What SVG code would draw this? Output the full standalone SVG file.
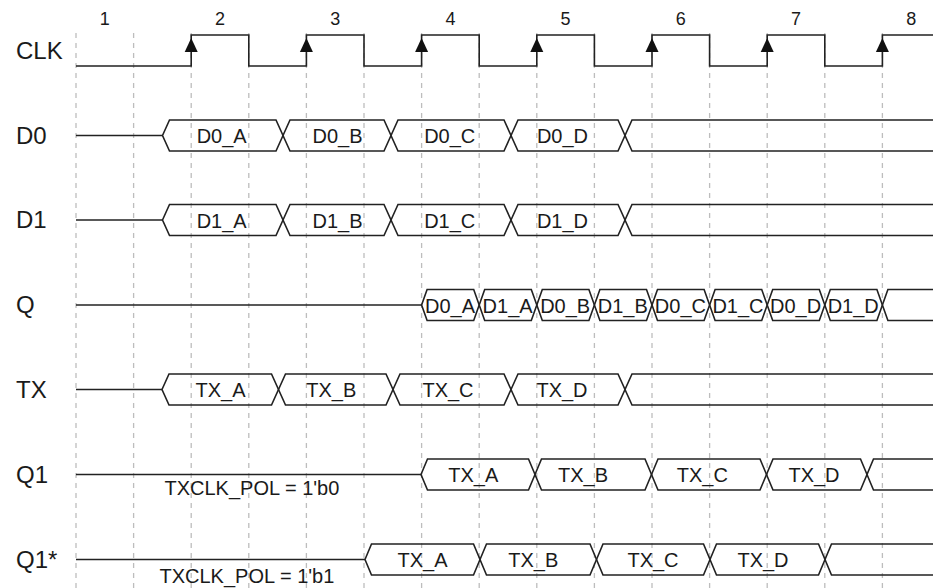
<svg xmlns="http://www.w3.org/2000/svg" xmlns:xlink="http://www.w3.org/1999/xlink" width="933" height="588" viewBox="0 0 933 588">
<style>
.grid{stroke:#bdbdbd;stroke-width:1.3;stroke-dasharray:5 5;fill:none}
.sig{stroke:#222;stroke-width:1.6;fill:none;stroke-linejoin:miter}
.lbl{font-family:"Liberation Sans",Arial,sans-serif;font-size:24px;fill:#1a1a1a}
.num{font-family:"Liberation Sans",Arial,sans-serif;font-size:18px;fill:#1a1a1a;text-anchor:middle}
.val{font-family:"Liberation Sans",Arial,sans-serif;font-size:20px;fill:#1a1a1a;text-anchor:middle}
.note{font-family:"Liberation Sans",Arial,sans-serif;font-size:20px;fill:#1a1a1a}
</style>
<defs>
<path id="edge" d="M0 0 L-6.5 14 L6.5 14 Z" fill="#111"/>
</defs>
<rect width="933" height="588" fill="#fff"/>
<g id="grid" class="grid">
<line x1="76" y1="33" x2="76" y2="588"/>
<line x1="133.6" y1="33" x2="133.6" y2="588"/>
<line x1="191.2" y1="33" x2="191.2" y2="588"/>
<line x1="248.8" y1="33" x2="248.8" y2="588"/>
<line x1="306.4" y1="33" x2="306.4" y2="588"/>
<line x1="364" y1="33" x2="364" y2="588"/>
<line x1="421.6" y1="33" x2="421.6" y2="588"/>
<line x1="479.2" y1="33" x2="479.2" y2="588"/>
<line x1="536.8" y1="33" x2="536.8" y2="588"/>
<line x1="594.4" y1="33" x2="594.4" y2="588"/>
<line x1="652" y1="33" x2="652" y2="588"/>
<line x1="709.6" y1="33" x2="709.6" y2="588"/>
<line x1="767.2" y1="33" x2="767.2" y2="588"/>
<line x1="824.8" y1="33" x2="824.8" y2="588"/>
<line x1="882.4" y1="33" x2="882.4" y2="588"/>
</g>
<g id="cycles" class="num">
<text x="104.8" y="25">1</text>
<text x="220" y="25">2</text>
<text x="335.2" y="25">3</text>
<text x="450.4" y="25">4</text>
<text x="565.6" y="25">5</text>
<text x="680.8" y="25">6</text>
<text x="796" y="25">7</text>
<text x="911.2" y="25">8</text>
</g>
<g id="clk">
<text class="lbl" x="16" y="59">CLK</text>
<path class="sig" d="M76 66 H191.2 V35 H248.8 V66 H306.4 V35 H364 V66 H421.6 V35 H479.2 V66 H536.8 V35 H594.4 V66 H652 V35 H709.6 V66 H767.2 V35 H824.8 V66 H882.4 V35 H940"/>
<use xlink:href="#edge" x="191.2" y="38"/>
<use xlink:href="#edge" x="306.4" y="38"/>
<use xlink:href="#edge" x="421.6" y="38"/>
<use xlink:href="#edge" x="536.8" y="38"/>
<use xlink:href="#edge" x="652" y="38"/>
<use xlink:href="#edge" x="767.2" y="38"/>
<use xlink:href="#edge" x="882.4" y="38"/>
</g>
<g id="d0">
<text class="lbl" x="16" y="143.5">D0</text>
<g class="sig">
<path d="M76 135.5 H162.5"/>
<polygon points="162.5,135.5 169.5,120 276,120 283,135.5 276,151 169.5,151"/>
<polygon points="283,135.5 290,120 384,120 391,135.5 384,151 290,151"/>
<polygon points="391,135.5 398,120 504,120 511,135.5 504,151 398,151"/>
<polygon points="511,135.5 518,120 618,120 625,135.5 618,151 518,151"/>
<polyline points="940,120 632,120 625,135.5 632,151 940,151"/>
</g>
<g class="val">
<text x="221.7" y="143">D0_A</text>
<text x="337.5" y="143">D0_B</text>
<text x="449.7" y="143">D0_C</text>
<text x="562.5" y="143">D0_D</text>
</g>
</g>
<g id="d1">
<text class="lbl" x="16" y="228">D1</text>
<g class="sig">
<path d="M76 220 H162.5"/>
<polygon points="162.5,220 169.5,204.5 276,204.5 283,220 276,235.5 169.5,235.5"/>
<polygon points="283,220 290,204.5 384,204.5 391,220 384,235.5 290,235.5"/>
<polygon points="391,220 398,204.5 504,204.5 511,220 504,235.5 398,235.5"/>
<polygon points="511,220 518,204.5 618,204.5 625,220 618,235.5 518,235.5"/>
<polyline points="940,204.5 632,204.5 625,220 632,235.5 940,235.5"/>
</g>
<g class="val">
<text x="221.7" y="227.5">D1_A</text>
<text x="337.5" y="227.5">D1_B</text>
<text x="449.7" y="227.5">D1_C</text>
<text x="562.5" y="227.5">D1_D</text>
</g>
</g>
<g id="q">
<text class="lbl" x="16" y="313">Q</text>
<g class="sig">
<path d="M76 305 H421.6"/>
<polygon points="421.6,305 427.1,289.5 473.7,289.5 479.2,305 473.7,320.5 427.1,320.5"/>
<polygon points="479.2,305 484.7,289.5 531.3,289.5 536.8,305 531.3,320.5 484.7,320.5"/>
<polygon points="536.8,305 542.3,289.5 588.9,289.5 594.4,305 588.9,320.5 542.3,320.5"/>
<polygon points="594.4,305 599.9,289.5 646.5,289.5 652,305 646.5,320.5 599.9,320.5"/>
<polygon points="652,305 657.5,289.5 704.1,289.5 709.6,305 704.1,320.5 657.5,320.5"/>
<polygon points="709.6,305 715.1,289.5 761.7,289.5 767.2,305 761.7,320.5 715.1,320.5"/>
<polygon points="767.2,305 772.7,289.5 819.3,289.5 824.8,305 819.3,320.5 772.7,320.5"/>
<polygon points="824.8,305 830.3,289.5 876.9,289.5 882.4,305 876.9,320.5 830.3,320.5"/>
<polyline points="940,289.5 887.9,289.5 882.4,305 887.9,320.5 940,320.5"/>
</g>
<g class="val">
<text x="450" y="312.5">D0_A</text>
<text x="507.6" y="312.5">D1_A</text>
<text x="565.2" y="312.5">D0_B</text>
<text x="622.8" y="312.5">D1_B</text>
<text x="680.4" y="312.5">D0_C</text>
<text x="738" y="312.5">D1_C</text>
<text x="795.6" y="312.5">D0_D</text>
<text x="853.2" y="312.5">D1_D</text>
</g>
</g>
<g id="tx">
<text class="lbl" x="16" y="397.5">TX</text>
<g class="sig">
<path d="M76 389.5 H162"/>
<polygon points="162,389.5 169,374 271.5,374 278.5,389.5 271.5,405 169,405"/>
<polygon points="278.5,389.5 285.5,374 386,374 393,389.5 386,405 285.5,405"/>
<polygon points="393,389.5 400,374 504,374 511,389.5 504,405 400,405"/>
<polygon points="511,389.5 518,374 618,374 625,389.5 618,405 518,405"/>
<polyline points="940,374 632,374 625,389.5 632,405 940,405"/>
</g>
<g class="val">
<text x="220.5" y="396.5">TX_A</text>
<text x="331.3" y="396.5">TX_B</text>
<text x="448" y="396.5">TX_C</text>
<text x="562" y="396.5">TX_D</text>
</g>
</g>
<g id="q1">
<text class="lbl" x="16" y="482.5">Q1</text>
<g class="sig">
<path d="M76 474.5 H421"/>
<polygon points="421,474.5 427.5,459 528.5,459 535,474.5 528.5,490 427.5,490"/>
<polygon points="535,474.5 541.5,459 645,459 651.5,474.5 645,490 541.5,490"/>
<polygon points="651.5,474.5 658,459 760,459 766.5,474.5 760,490 658,490"/>
<polygon points="766.5,474.5 773,459 860.5,459 867,474.5 860.5,490 773,490"/>
<polyline points="940,459 873.5,459 867,474.5 873.5,490 940,490"/>
</g>
<g class="val">
<text x="473.3" y="481.5">TX_A</text>
<text x="583" y="481.5">TX_B</text>
<text x="702.3" y="481.5">TX_C</text>
<text x="814" y="481.5">TX_D</text>
</g>
<text class="note" x="164.5" y="495">TXCLK_POL = 1'b0</text>
</g>
<g id="q1star">
<text class="lbl" x="16" y="567.5">Q1*</text>
<g class="sig">
<path d="M76 559.5 H365"/>
<polygon points="365,559.5 371.5,544 473.5,544 480,559.5 473.5,575 371.5,575"/>
<polygon points="480,559.5 486.5,544 590,544 596.5,559.5 590,575 486.5,575"/>
<polygon points="596.5,559.5 603,544 703.5,544 710,559.5 703.5,575 603,575"/>
<polygon points="710,559.5 716.5,544 818.5,544 825,559.5 818.5,575 716.5,575"/>
<polyline points="940,544 831.5,544 825,559.5 831.5,575 940,575"/>
</g>
<g class="val">
<text x="422.5" y="566.5">TX_A</text>
<text x="533.3" y="566.5">TX_B</text>
<text x="653" y="566.5">TX_C</text>
<text x="763" y="566.5">TX_D</text>
</g>
<text class="note" x="159.5" y="583">TXCLK_POL = 1'b1</text>
</g>
</svg>
